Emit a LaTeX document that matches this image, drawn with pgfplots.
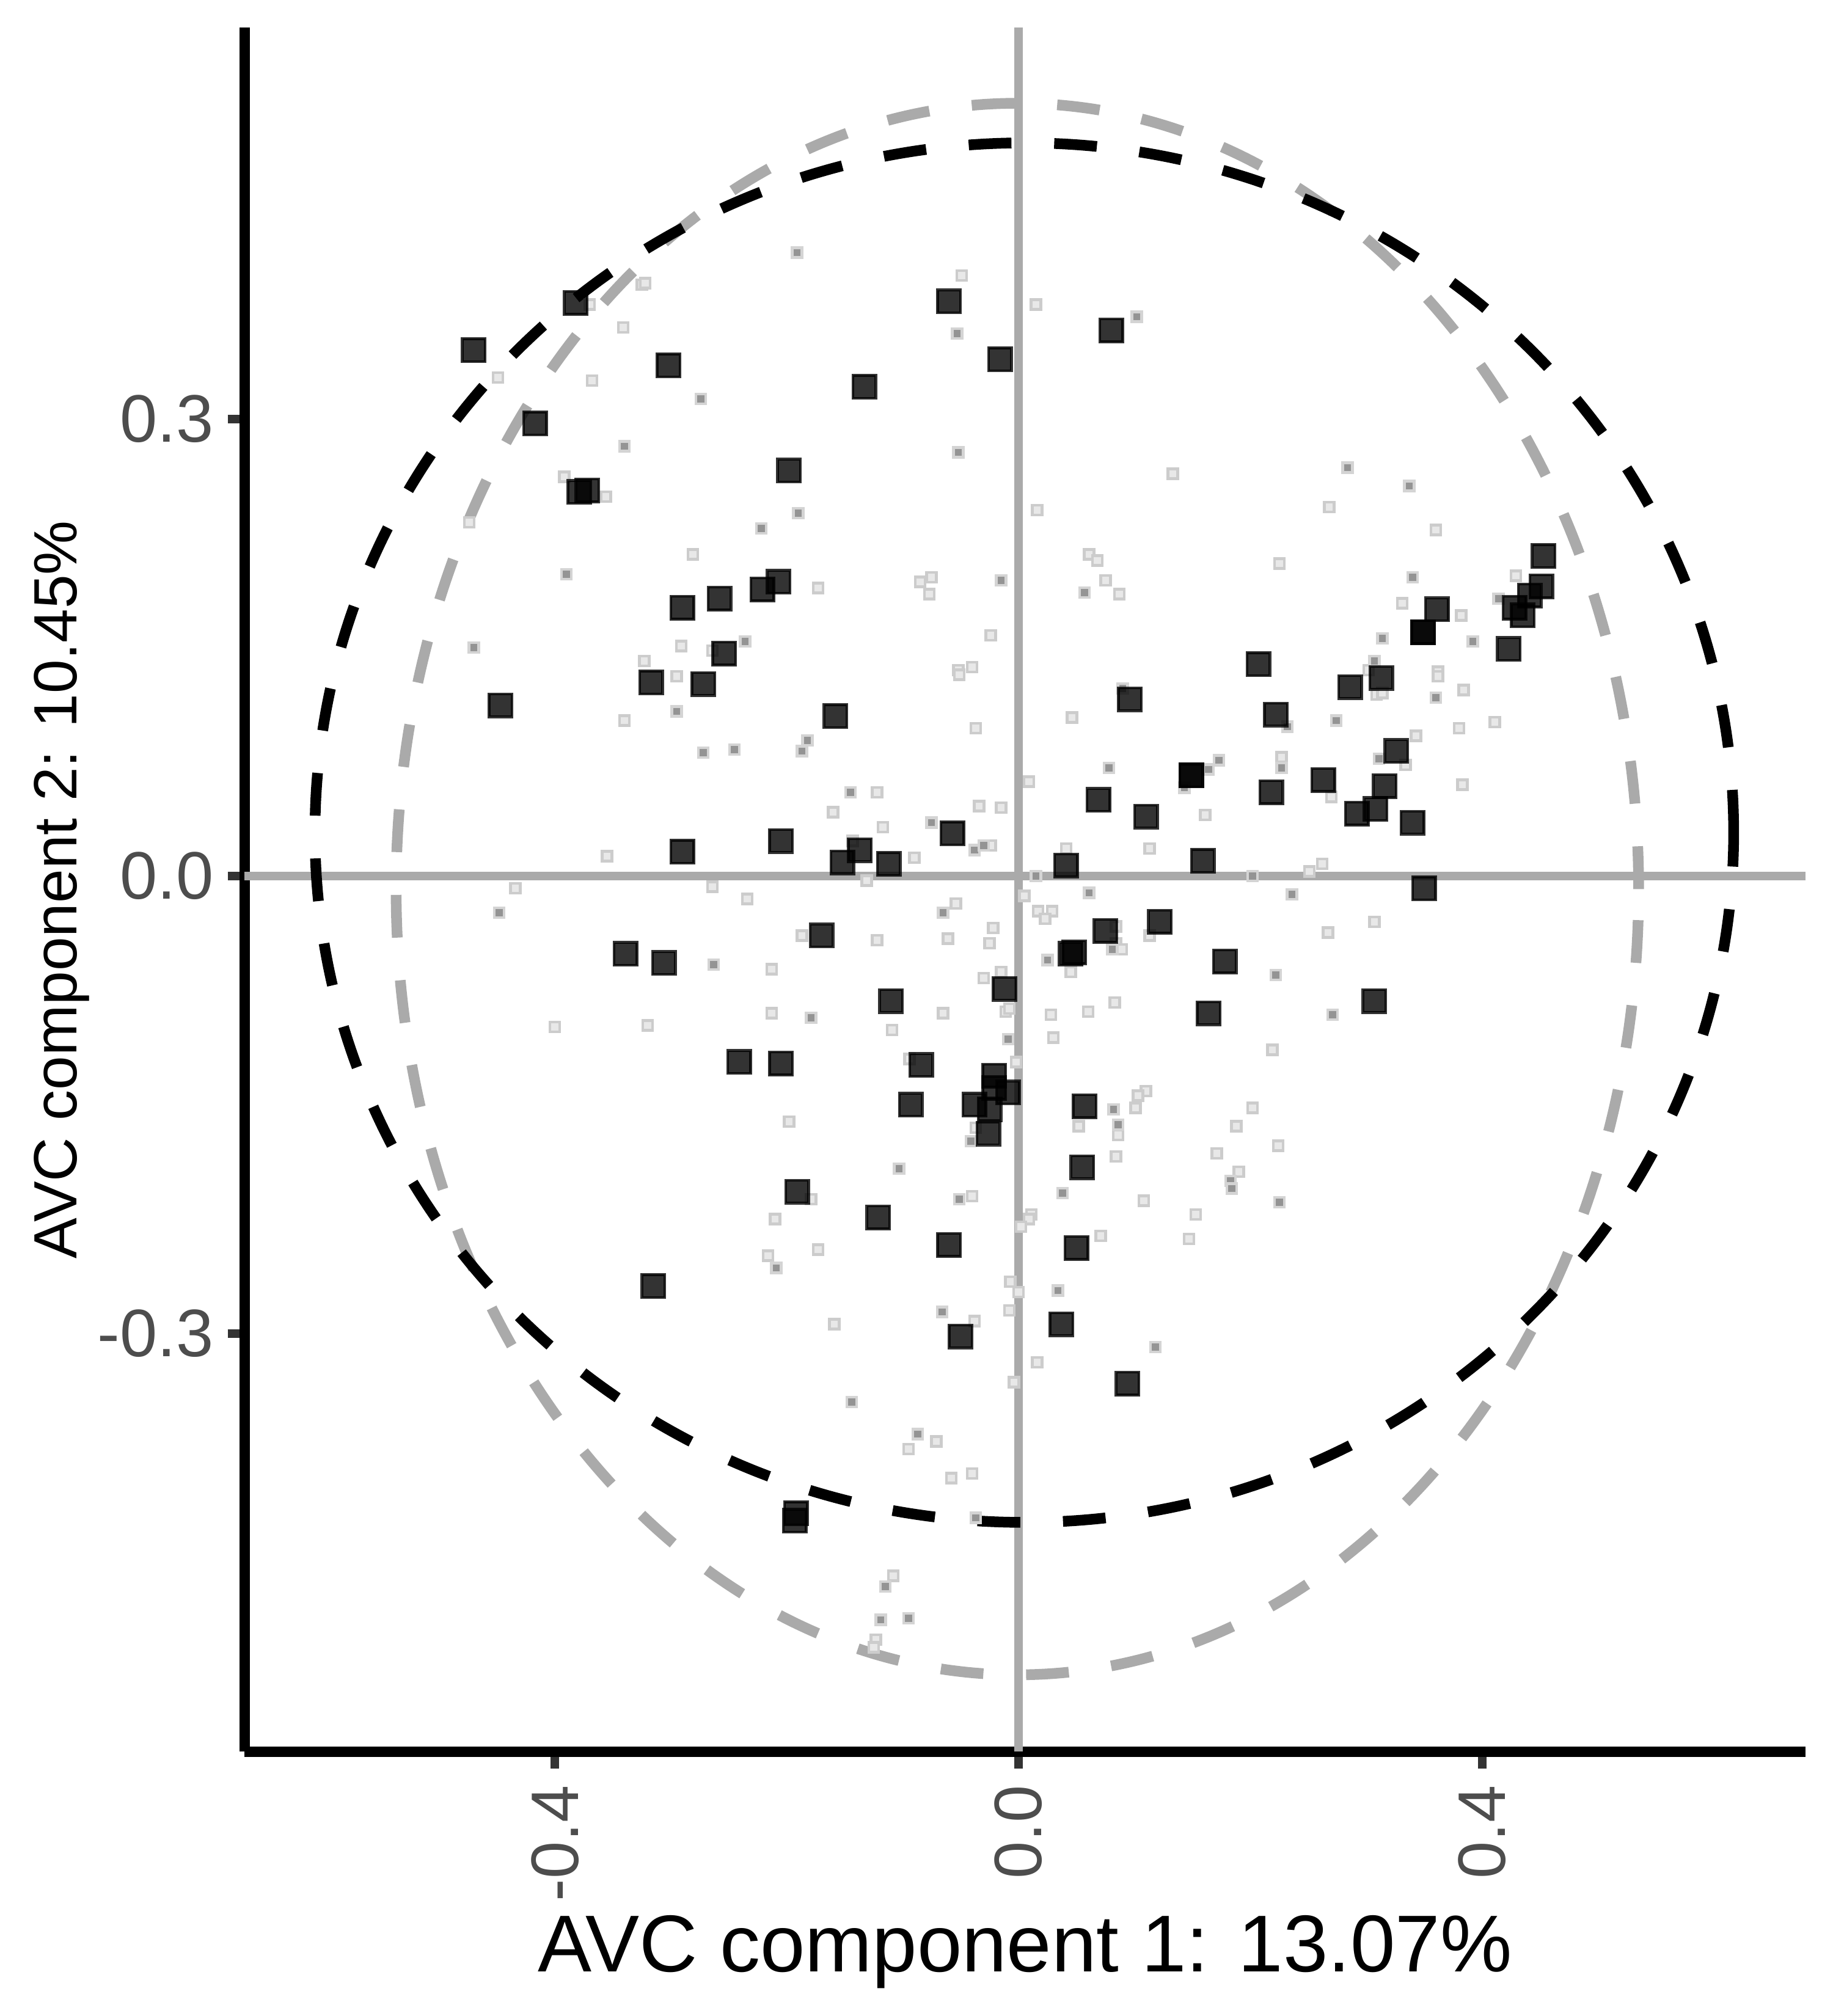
\documentclass[border=0pt]{standalone}
\usepackage{pgfplots}
\pgfplotsset{compat=1.18}
\usepackage{fontspec}
\setmainfont{Liberation Sans}
\definecolor{zl}{RGB}{170,170,170}
\definecolor{tk}{RGB}{77,77,77}
\begin{document}
\begin{tikzpicture}
\useasboundingbox (0,0) rectangle (300pt,330pt);
\begin{axis}[
 at={(40pt,43.3pt)}, anchor=south west,
 scale only axis, width=255.5pt, height=282.2pt,
 xmin=-0.6679, xmax=0.6790, ymin=-0.5743, ymax=0.5567,
 axis x line*=bottom, axis y line*=left,
 axis line style={black, line width=1.7pt},
 tick align=outside, major tick length=2.75pt,
 every tick/.style={black!80, line width=1.4pt},
 xtick={-0.4,0,0.4}, xticklabels={-0.4,0.0,0.4},
 ytick={-0.3,0,0.3}, yticklabels={-0.3,0.0,0.3},
 minor tick num=0,
 ticklabel style={font=\fontsize{11}{13}\selectfont, text=tk, inner sep=0pt},
 xticklabel style={rotate=90, anchor=east},
 yticklabel style={anchor=east},
 xticklabel shift=2.6pt, yticklabel shift=2.1pt,
 xlabel={AVC component 1: 13.07\%},
 ylabel={AVC component 2: 10.45\%},
 xlabel style={font=\fontsize{13.2}{15}\selectfont, at={(axis description cs:0.5,-0.1276)}, anchor=base, inner sep=0pt},
 ylabel style={font=\fontsize{10}{12}\selectfont, at={(axis description cs:-0.1076,0.5)}, anchor=base, inner sep=0pt},
]
\draw[zl, line width=1.35pt] (axis cs:-0.6679,0) -- (axis cs:0.6790,0);
\draw[zl, line width=1.35pt] (axis cs:0,-0.5743) -- (axis cs:0,0.5567);
% light small points
\addplot[only marks, mark=square*, mark size=0.8pt, mark options={draw=black!20, fill=black!9, line width=0.45pt}] coordinates {
(-0.325,0.388) (-0.322,0.389) (-0.370,0.375) (-0.341,0.360) (-0.449,0.327) (-0.368,0.325) (-0.392,0.262) (-0.356,0.249) (-0.474,0.232) (-0.323,0.141)
(-0.049,0.394) (0.015,0.375) (0.016,0.240) (-0.281,0.211) (-0.173,0.189) (-0.085,0.193) (-0.075,0.196) (-0.077,0.185) (0.061,0.211) (0.068,0.207) (-0.024,0.158) (-0.291,0.151) (-0.264,0.148) (-0.040,0.137) (-0.052,0.135)
(0.133,0.264) (0.268,0.242) (0.360,0.227) (0.075,0.194) (0.087,0.185) (0.225,0.205) (0.429,0.197) (0.331,0.179) (0.382,0.171) (0.302,0.135) (0.362,0.134)
(-0.340,0.102) (-0.355,0.013) (-0.434,-0.008) (-0.400,-0.099) (-0.320,-0.098)
(-0.295,0.131) (-0.051,0.132) (0.046,0.104) (-0.037,0.097) (0.009,0.062) (-0.122,0.055) (-0.160,0.042) (-0.117,0.032) (-0.034,0.046) (-0.015,0.045) (-0.024,0.020) (-0.090,0.012) (-0.143,0.023) (0.041,0.018) (-0.131,-0.003) (-0.264,-0.007) (-0.234,-0.015) (0.005,-0.013) (-0.054,-0.018) (0.017,-0.023) (0.029,-0.023) (0.023,-0.028) (-0.022,-0.034) (-0.061,-0.041) (-0.025,-0.044) (-0.187,-0.039) (-0.122,-0.042) (-0.213,-0.061) (0.045,-0.063) (-0.030,-0.067) (-0.015,-0.063) (-0.213,-0.090) (-0.065,-0.090) (-0.109,-0.101) (-0.011,-0.089) (-0.008,-0.087) (0.028,-0.091) (0.060,-0.089) (0.030,-0.106) (-0.094,-0.120) (-0.002,-0.122) (-0.198,-0.161) (-0.037,-0.165) (0.052,-0.164)
(0.362,0.131) (0.384,0.122) (0.309,0.119) (0.314,0.120) (0.380,0.097) (0.411,0.101) (0.343,0.092) (0.334,0.073) (0.227,0.078) (0.270,0.052) (0.383,0.060) (0.161,0.040) (0.113,0.018) (0.262,0.008) (0.251,0.003) (0.084,-0.033) (0.084,-0.044) (0.089,-0.048) (0.113,-0.039) (0.307,-0.030) (0.267,-0.037) (0.083,-0.083) (0.219,-0.114) (0.110,-0.141) (0.103,-0.144) (0.101,-0.152) (0.086,-0.170) (0.202,-0.152) (0.188,-0.164) (0.224,-0.177) (0.171,-0.182) (0.084,-0.184)
(-0.179,-0.212) (-0.210,-0.225) (-0.040,-0.210) (-0.173,-0.245) (-0.216,-0.249) (0.011,-0.222) (0.009,-0.225) (0.002,-0.230) (0.071,-0.236) (-0.007,-0.266) (0.000,-0.273) (-0.008,-0.285) (-0.038,-0.292) (-0.159,-0.294) (0.016,-0.319) (-0.004,-0.332) (-0.071,-0.371) (-0.095,-0.376) (-0.058,-0.395) (-0.040,-0.392) (-0.108,-0.459) (-0.123,-0.501) (-0.125,-0.506)
(0.190,-0.194) (0.108,-0.213) (0.153,-0.222) (0.147,-0.238)
};
% dark small points
\addplot[only marks, mark=square*, mark size=0.8pt, mark options={draw=black!17, fill=black!42, line width=0.45pt}] coordinates {
(-0.340,0.282) (-0.390,0.198) (-0.470,0.150)
(-0.191,0.409) (-0.053,0.356) (-0.274,0.313) (-0.052,0.278) (-0.190,0.238) (-0.222,0.228) (-0.015,0.194) (0.057,0.186) (-0.236,0.154)
(0.102,0.367) (0.284,0.268) (0.337,0.256) (0.340,0.196) (0.414,0.182) (0.314,0.156) (0.392,0.154) (0.307,0.141)
(-0.448,-0.024)
(-0.295,0.108) (-0.272,0.081) (-0.245,0.083) (-0.182,0.089) (-0.187,0.082) (-0.145,0.055) (-0.075,0.035) (-0.038,0.017) (-0.030,0.020) (0.015,0.000) (0.061,-0.011) (-0.065,-0.024) (-0.263,-0.058) (0.025,-0.055) (-0.179,-0.093) (-0.009,-0.107) (-0.041,-0.174)
(0.090,0.123) (0.360,0.117) (0.232,0.098) (0.274,0.102) (0.311,0.077) (0.078,0.071) (0.173,0.076) (0.164,0.070) (0.143,0.058) (0.227,0.071) (0.202,0.000) (0.236,-0.012) (0.081,-0.048) (0.222,-0.065) (0.271,-0.091) (0.082,-0.153) (0.086,-0.163)
(-0.103,-0.192) (-0.051,-0.212) (-0.209,-0.257) (0.038,-0.208) (0.034,-0.272) (-0.066,-0.286) (-0.144,-0.345) (-0.087,-0.366) (-0.037,-0.421) (-0.115,-0.466) (-0.119,-0.488) (-0.095,-0.487)
(0.183,-0.200) (0.184,-0.205) (0.225,-0.214) (0.118,-0.309)
};
% large points
\addplot[only marks, mark=square*, mark size=1.875pt, mark options={draw=black, fill=black, opacity=0.8, line width=0.45pt}] coordinates {
(-0.470,0.345) (-0.382,0.376) (-0.302,0.335) (-0.417,0.297) (-0.379,0.252) (-0.372,0.253) (-0.060,0.377) (-0.016,0.339) (-0.133,0.321) (0.080,0.358)
(-0.198,0.266) (-0.290,0.176) (-0.258,0.182) (-0.221,0.188) (-0.207,0.193) (-0.254,0.146) (-0.447,0.112) (-0.317,0.127) (-0.272,0.126) (-0.158,0.105)
(-0.290,0.016) (-0.205,0.023) (-0.137,0.017) (-0.152,0.009) (-0.112,0.008) (-0.057,0.028) (0.041,0.007) (-0.339,-0.051) (-0.306,-0.057) (-0.170,-0.039)
(-0.110,-0.082) (-0.012,-0.074) (0.045,-0.051) (0.048,-0.050) (0.075,-0.036) (-0.241,-0.122) (-0.205,-0.123) (-0.084,-0.124) (-0.093,-0.150) (-0.021,-0.131)
(-0.021,-0.139) (-0.009,-0.142) (-0.038,-0.150) (-0.025,-0.153) (-0.026,-0.169) (0.057,-0.151) (0.096,0.116) (0.207,0.139) (0.286,0.124) (0.313,0.130)
(0.222,0.106) (0.326,0.082) (0.149,0.066) (0.149,0.066) (0.069,0.050) (0.110,0.039) (0.218,0.055) (0.263,0.063) (0.316,0.059) (0.292,0.041) (0.308,0.044)
(0.340,0.035) (0.159,0.010) (0.350,-0.008) (0.122,-0.030) (0.178,-0.056) (0.164,-0.090) (0.307,-0.082) (0.361,0.175) (0.349,0.160) (0.349,0.160)
(0.428,0.176) (0.435,0.171) (0.441,0.184) (0.451,0.190) (0.453,0.210) (0.423,0.149) (-0.315,-0.269) (-0.191,-0.207) (-0.121,-0.224) (-0.060,-0.242)
(-0.050,-0.302) (0.055,-0.191) (0.050,-0.244) (0.037,-0.294) (-0.192,-0.418) (-0.193,-0.423) (0.094,-0.333)
};
\draw[zl, line width=1.75pt, dash pattern=on 7pt off 7pt] (axis cs:-0.001,-0.0085) ellipse [x radius=0.536, y radius=0.5155];
\draw[black, line width=1.75pt, dash pattern=on 7pt off 7pt] (axis cs:0.005,0.0285) ellipse [x radius=0.612, y radius=0.4525];
\end{axis}
\end{tikzpicture}
\end{document}
